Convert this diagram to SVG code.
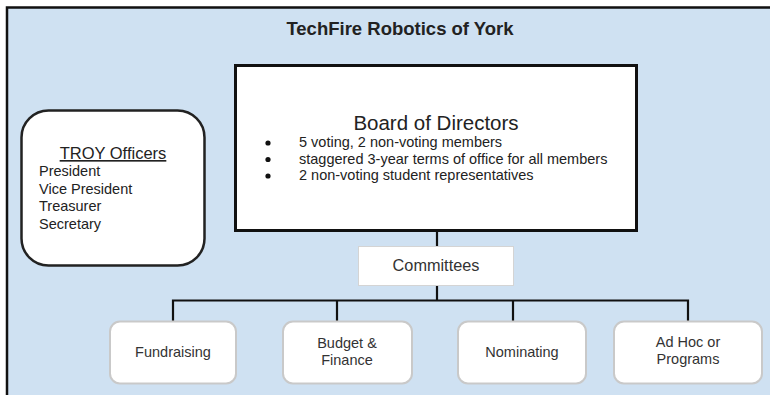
<svg xmlns="http://www.w3.org/2000/svg" width="770" height="395" viewBox="0 0 770 395">
  <style>
    text { font-family: "Liberation Sans", Arial, sans-serif; fill: #222; }
    .title { font-size: 18.5px; font-weight: bold; }
    .board-title { font-size: 20.5px; }
    .body { font-size: 14.5px; }
    .officers-title { font-size: 16.5px; text-decoration: underline; }
    .child { fill: #fff; stroke: #c9c9c9; stroke-width: 2; }
    .child-text { font-size: 14.5px; fill: #333; text-anchor: middle; }
    .link { fill: none; stroke: #111; stroke-width: 2.2; }
  </style>

  <!-- outer frame -->
  <rect x="0" y="0" width="770" height="395" fill="#fff"/>
  <rect x="7" y="7.5" width="770" height="400" fill="#cfe1f2" stroke="#111" stroke-width="2.5"/>
  <text class="title" x="400" y="35" text-anchor="middle">TechFire Robotics of York</text>

  <!-- connectors -->
  <g id="connectors">
    <line class="link" x1="437" y1="231" x2="437" y2="246"/>
    <line class="link" x1="437" y1="286" x2="437" y2="300.5"/>
    <polyline class="link" points="173,321 173,300.5 688,300.5 688,321"/>
    <line class="link" x1="337" y1="300.5" x2="337" y2="321"/>
    <line class="link" x1="513" y1="300.5" x2="513" y2="321"/>
  </g>

  <!-- board of directors -->
  <g id="board">
    <rect x="235.5" y="65.5" width="401" height="165" fill="#fff" stroke="#111" stroke-width="3"/>
    <text class="board-title" x="436" y="130" text-anchor="middle">Board of Directors</text>
    <circle cx="268" cy="143" r="2.6" fill="#111"/>
    <circle cx="268" cy="159.5" r="2.6" fill="#111"/>
    <circle cx="268" cy="176" r="2.6" fill="#111"/>
    <text class="body" x="299" y="147">5 voting, 2 non-voting members</text>
    <text class="body" x="299" y="163.5">staggered 3-year terms of office for all members</text>
    <text class="body" x="299" y="180">2 non-voting student representatives</text>
  </g>

  <!-- officers -->
  <g id="officers">
    <rect x="21.5" y="110.5" width="183" height="155" rx="27" ry="27" fill="#fff" stroke="#222" stroke-width="2.5"/>
    <text class="officers-title" x="113" y="159" text-anchor="middle">TROY Officers</text>
    <text class="body" x="39" y="176">President</text>
    <text class="body" x="39" y="193.5">Vice President</text>
    <text class="body" x="39" y="211">Treasurer</text>
    <text class="body" x="39" y="228.5">Secretary</text>
  </g>

  <!-- committees -->
  <g id="committees">
    <rect x="358.5" y="246.5" width="155" height="39" fill="#fff" stroke="#d4d4d4" stroke-width="1"/>
    <text x="436" y="271" font-size="16.3" text-anchor="middle" style="fill:#333">Committees</text>
  </g>

  <g id="fundraising">
    <rect class="child" x="110" y="321.5" width="126" height="62" rx="10" ry="10"/>
    <text class="child-text" x="173" y="357">Fundraising</text>
  </g>

  <g id="budget">
    <rect class="child" x="283" y="321.5" width="129" height="62" rx="10" ry="10"/>
    <text class="child-text" x="347" y="348">Budget &amp;</text>
    <text class="child-text" x="347" y="365">Finance</text>
  </g>

  <g id="nominating">
    <rect class="child" x="458" y="321.5" width="128" height="62" rx="10" ry="10"/>
    <text class="child-text" x="522" y="357">Nominating</text>
  </g>

  <g id="adhoc">
    <rect class="child" x="614" y="321.5" width="148" height="62" rx="10" ry="10"/>
    <text class="child-text" x="688" y="347">Ad Hoc or</text>
    <text class="child-text" x="688" y="364">Programs</text>
  </g>
</svg>
